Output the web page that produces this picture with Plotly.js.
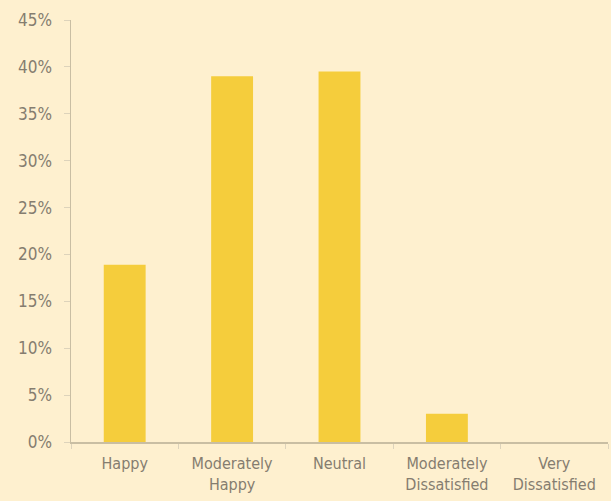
<!DOCTYPE html>
<html><head><meta charset="utf-8">
<script src="https://cdn.plot.ly/plotly-3.0.1.min.js"></script>
<style>html,body{margin:0;padding:0;background:#FEF0CF;}</style>
</head><body>
<div id="chart" style="width:611px;height:501px;"></div>
<script>
const categories = ["Happy", "Moderately<br>Happy", "Neutral", "Moderately<br>Dissatisfied", "Very<br>Dissatisfied"];
const values = [0.189, 0.39, 0.395, 0.03, 0];
const tickValues = [0, 0.05, 0.10, 0.15, 0.20, 0.25, 0.30, 0.35, 0.40, 0.45];
const tickLabels = ["0%", "5%", "10%", "15%", "20%", "25%", "30%", "35%", "40%", "45%"];

const font = {family: "DejaVu Sans Condensed, Roboto, sans-serif", size: 16, color: "#857D6F"};

Plotly.newPlot("chart", [{
  type: "bar", x: categories, y: values,
  marker: {color: "#F5CD3C"}, hoverinfo: "none"
}], {
  width: 611, height: 501,
  margin: {l: 71, r: 3, t: 20, b: 59},
  paper_bgcolor: "#FEF0CF", plot_bgcolor: "#FEF0CF",
  bargap: 0.61,
  font: font,
  showlegend: false,
  xaxis: {
    showline: true, linecolor: "#C9BEA3", linewidth: 1.5,
    ticks: "outside", tickson: "boundaries", ticklen: 5, tickcolor: "#DDD3BB",
    showgrid: false, tickfont: font, ticklabelstandoff: 6
  },
  yaxis: {
    range: [0, 0.45], tickvals: tickValues, ticktext: tickLabels,
    showline: true, linecolor: "#C9BEA3", linewidth: 1.5,
    ticks: "outside", ticklen: 6, tickcolor: "#DDD3BB",
    showgrid: false, zeroline: false, tickfont: Object.assign({}, font, {size: 17}),
    ticklabelstandoff: 8
  }
}, {displayModeBar: false, staticPlot: true});
</script>
</body></html>
